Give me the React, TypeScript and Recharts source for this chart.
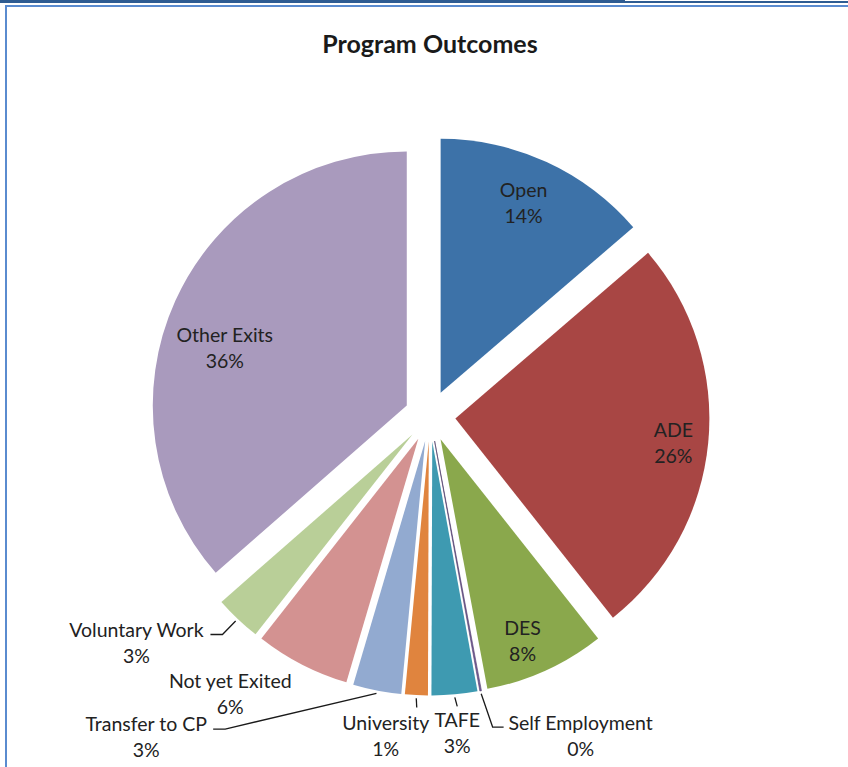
import { PieChart, Pie, Cell } from 'recharts'

const categories = [
  'Open',
  'ADE',
  'DES',
  'Self Employment',
  'TAFE',
  'University',
  'Transfer to CP',
  'Not yet Exited',
  'Voluntary Work',
  'Other Exits',
]

// share of participants (%)
const shares = [13.7, 25.65, 7.7, 0.1, 2.9, 1.45, 3.07, 6.03, 2.95, 36.45]

const sliceColors = [
  '#3D72A8',
  '#A84644',
  '#8AA84C',
  '#7B5F9E',
  '#3E9AB1',
  '#E0843E',
  '#92AAD0',
  '#D39291',
  '#B9CF98',
  '#A99ABD',
]

const CX = 430
const CY = 416
const RADIUS = 254
const EXPLODE = 25.5
const FONT = 'Lato, "Open Sans", sans-serif'

// label block centre relative to the exploded slice apex, leader points relative to label centre
const LABEL_LAYOUT: { dx: number; dy: number; leader?: number[][] }[] = [
  { dx: 83, dy: -190 },
  { dx: 218, dy: 24 },
  { dx: 82, dy: 201 },
  { dx: 146, dy: 294, leader: [[-88, -8], [-77, -8]] },
  { dx: 25, dy: 291, leader: [[0, -26]] },
  { dx: -43, dy: 294, leader: [[31, -28]] },
  { dx: -279, dy: 295, leader: [[79, -7], [67, -7]] },
  { dx: -188, dy: 255 },
  { dx: -276, dy: 208, leader: [[86, -8], [74, -8]] },
  { dx: -182, dy: -58 },
]

const data = categories.map((name, i) => ({ name, value: shares[i] }))

const total = shares.reduce((a, b) => a + b, 0)

// offset of each slice along its bisector (clockwise from 12 o'clock)
const offsets = (() => {
  let acc = 0
  return shares.map((v) => {
    const mid = ((acc + v / 2) / total) * 2 * Math.PI
    acc += v
    return { x: EXPLODE * Math.sin(mid), y: -EXPLODE * Math.cos(mid) }
  })
})()

function renderLabel(props: any) {
  const { cx, cy, midAngle, outerRadius, index, percent, name } = props
  const rad = (midAngle * Math.PI) / 180
  const ux = Math.cos(rad)
  const uy = -Math.sin(rad)
  const ax = cx + EXPLODE * ux
  const ay = cy + EXPLODE * uy
  const lay = LABEL_LAYOUT[index]
  const lx = ax + lay.dx
  const ly = ay + lay.dy
  let path = ''
  if (lay.leader) {
    const sx = ax + (outerRadius + 3) * ux
    const sy = ay + (outerRadius + 3) * uy
    path = `M${sx},${sy}` + lay.leader.map(([px, py]) => ` L${lx + px},${ly + py}`).join('')
  }
  return (
    <g key={`lbl-${index}`}>
      {path && <path d={path} stroke="#1a1a1a" strokeWidth={1.3} fill="none" />}
      <text
        x={lx}
        y={ly}
        textAnchor="middle"
        fill="#222"
        fontFamily={FONT}
        fontSize={19.5}
      >
        <tspan x={lx} y={ly - 13} dominantBaseline="central">
          {name}
        </tspan>
        <tspan x={lx} y={ly + 13} dominantBaseline="central">
          {`${Math.round(percent * 100)}%`}
        </tspan>
      </text>
    </g>
  )
}

export default function App() {
  return (
    <div style={{ position: 'absolute', left: 0, top: 0, width: 848, height: 767, background: '#fff', overflow: 'hidden' }}>
      <div style={{ position: 'absolute', left: 0, top: 0, width: 625, height: 3, background: '#2E5C92' }} />
      <div style={{ position: 'absolute', left: 625, top: 1, width: 223, height: 2, background: '#2E5C92' }} />
      <div style={{ position: 'absolute', left: 5, top: 5, width: 843, height: 2, background: '#5A8BCF' }} />
      <div style={{ position: 'absolute', left: 5, top: 5, width: 2, height: 762, background: '#5A8BCF' }} />
      <div
        style={{
          position: 'absolute',
          left: 0,
          width: 860,
          top: 28,
          textAlign: 'center',
          fontFamily: FONT,
          fontWeight: 700,
          fontSize: 25,
          color: '#1a1a1a',
        }}
      >
        Program Outcomes
      </div>
      <div style={{ position: 'absolute', left: 0, top: 0 }}>
        <PieChart width={848} height={767} margin={{ top: 0, right: 0, bottom: 0, left: 0 }}>
          <Pie
            data={data}
            dataKey="value"
            nameKey="name"
            cx={CX}
            cy={CY}
            outerRadius={RADIUS}
            startAngle={90}
            endAngle={-270}
            stroke="none"
            labelLine={false}
            label={renderLabel}
            isAnimationActive={false}
          >
            {data.map((entry, i) => (
              <Cell
                key={entry.name}
                fill={sliceColors[i]}
                stroke={i === 3 ? '#4b3a66' : 'none'}
                strokeWidth={i === 3 ? 0.6 : 0}
                transform={`translate(${offsets[i].x},${offsets[i].y})`}
              />
            ))}
          </Pie>
        </PieChart>
      </div>
    </div>
  )
}
